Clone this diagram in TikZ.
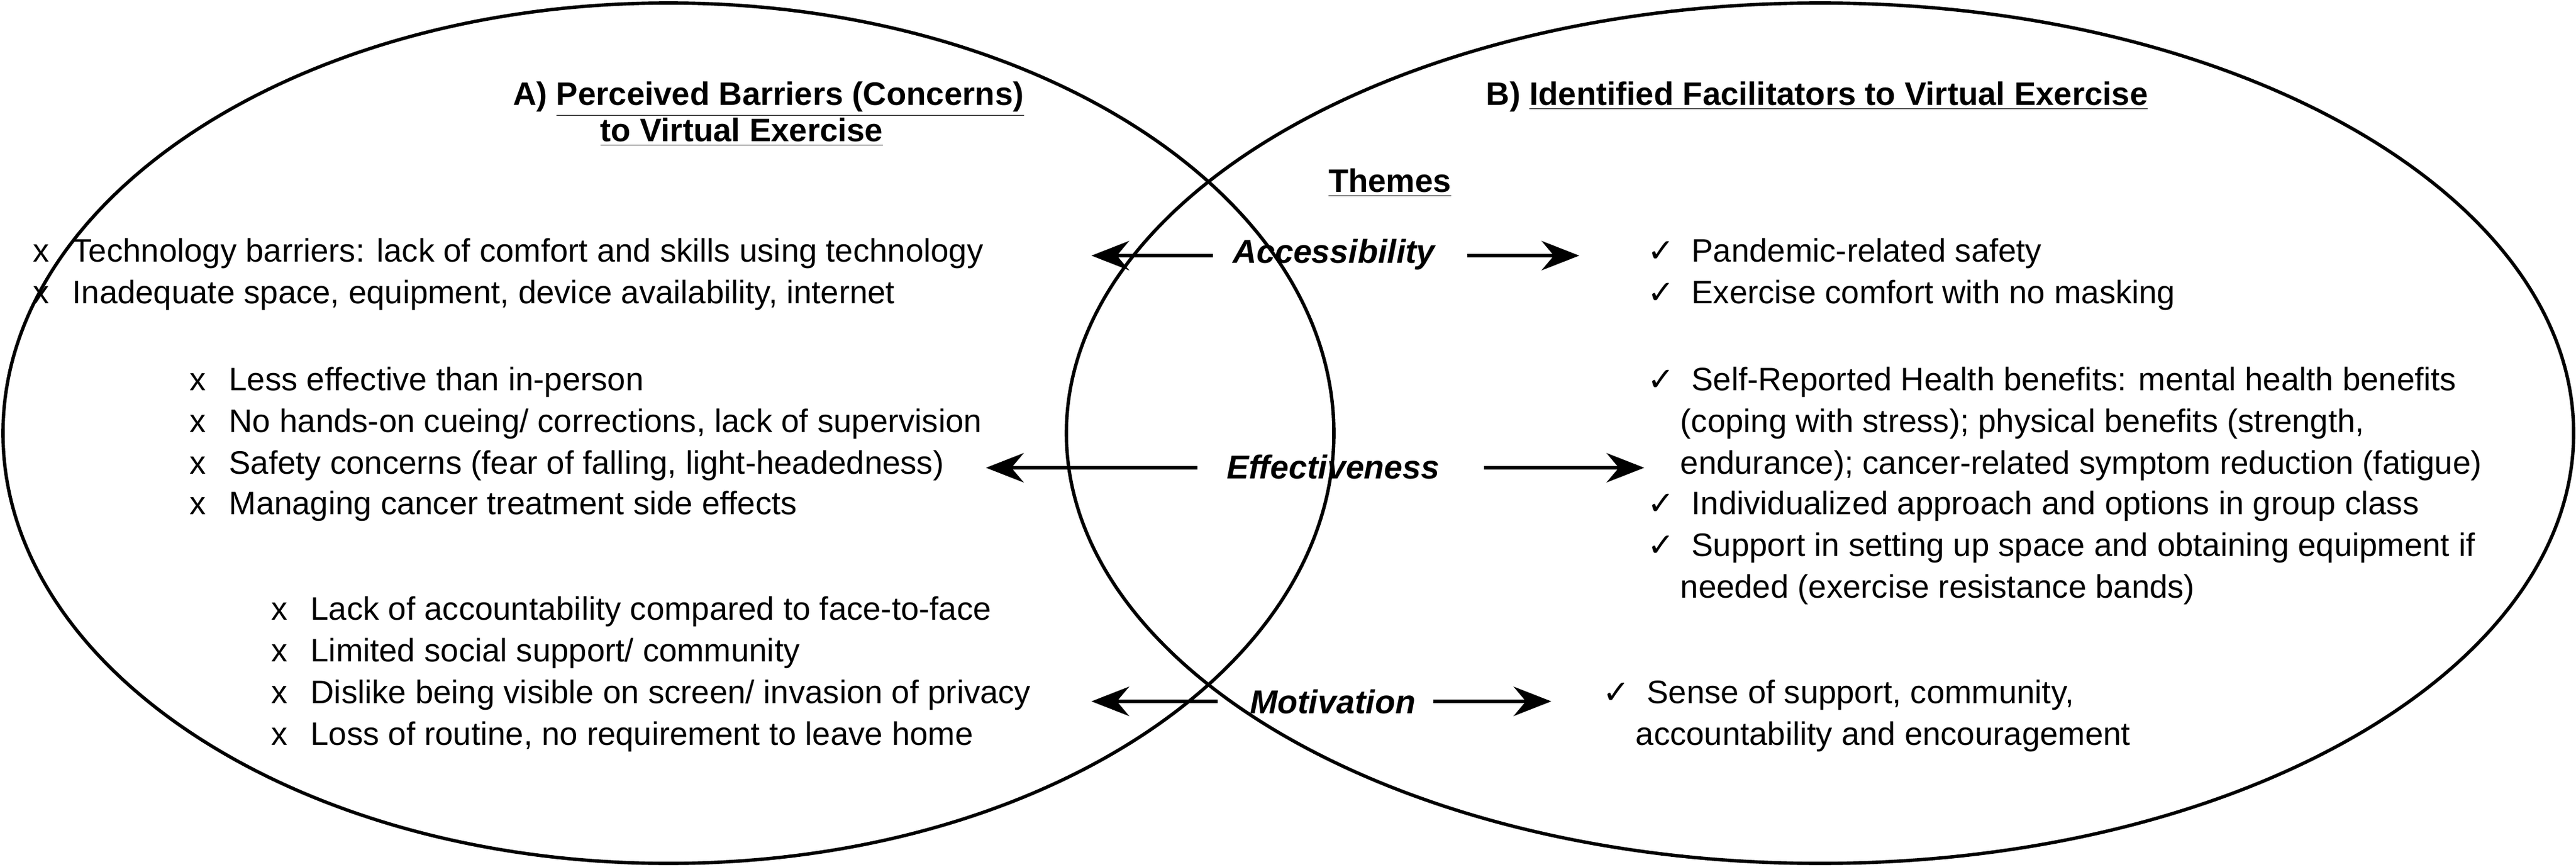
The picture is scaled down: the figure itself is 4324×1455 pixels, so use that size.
\documentclass[tikz,border=0pt]{standalone}
\usepackage{fontspec}
\setmainfont{Liberation Sans}
\newfontfamily\djv{DejaVu Sans}
\usetikzlibrary{arrows.meta}
\begin{document}
\begin{tikzpicture}[x=0.01cm,y=-0.01cm,
  txt/.style={anchor=base west,inner sep=0pt,font=\fontsize{15.5}{18}\selectfont},
  th/.style={anchor=base,inner sep=0pt,font=\fontsize{15.8}{18}\selectfont\bfseries\itshape},
  hd/.style={anchor=base,inner sep=0pt,font=\fontsize{15.5}{18}\selectfont\bfseries},
  arr/.style={-{Stealth[length=18,width=14]},line width=1.6pt},
  ell/.style={line width=1.6pt}]
\useasboundingbox (0,0) rectangle (4324,1455);
\draw[ell] (1122,727) ellipse [x radius=1117, y radius=722];
\draw[ell] (3055,727) ellipse [x radius=1265, y radius=722];
\newcommand{\xx}{x\hspace{11pt}}
\newcommand{\ck}{{\djv\char"2713}\hspace{8pt}}
% titles
\node[hd] (ta) at (1290,177) {A) \underline{Perceived Barriers (Concerns)}};
\node[hd] (ta2) at (1245,238) {\underline{to Virtual Exercise}};
\node[hd] (tb) at (3050,177) {B) \underline{Identified Facilitators to Virtual Exercise}};
\node[hd] (th) at (2333,323) {\underline{Themes}};
% themes
\node[th] (acc) at (2239,442) {Accessibility};
\node[th] (eff) at (2238,803) {Effectiveness};
\node[th] (mot) at (2237,1197) {Motivation};
\coordinate (accL) at (1832,429); \coordinate (accR) at (2651,429);
\coordinate (effL) at (1655,785); \coordinate (effR) at (2760,785);
\coordinate (motL) at (1832,1177); \coordinate (motR) at (2604,1177);
\draw[arr] (2036,429) -- (accL);
\draw[arr] (2463,429) -- (accR);
\draw[arr] (2010,785) -- (effL);
\draw[arr] (2491,785) -- (effR);
\draw[arr] (2044,1177) -- (motL);
\draw[arr] (2406,1177) -- (motR);
% left
\node[txt] (l1) at (55,440) {\xx Technology barriers: lack of comfort and skills using technology};
\node[txt] (l2) at (55,510) {\xx Inadequate space, equipment, device availability, internet};
\node[txt] (l3) at (318,655) {\xx Less effective than in-person};
\node[txt] (l4) at (318,725) {\xx No hands-on cueing/ corrections, lack of supervision};
\node[txt] (l5) at (318,795) {\xx Safety concerns (fear of falling, light-headedness)};
\node[txt] (l6) at (318,863) {\xx Managing cancer treatment side effects};
\node[txt] (l7) at (455,1040) {\xx Lack of accountability compared to face-to-face};
\node[txt] (l8) at (455,1110) {\xx Limited social support/ community};
\node[txt] (l9) at (455,1180) {\xx Dislike being visible on screen/ invasion of privacy};
\node[txt] (l10) at (455,1250) {\xx Loss of routine, no requirement to leave home};
% right
\node[txt] (r1) at (2765,440) {\ck Pandemic-related safety};
\node[txt] (r2) at (2765,510) {\ck Exercise comfort with no masking};
\node[txt] (r3) at (2765,655) {\ck Self-Reported Health benefits: mental health benefits};
\node[txt] (r3b) at (2820,725) {(coping with stress); physical benefits (strength,};
\node[txt] (r3c) at (2820,795) {endurance); cancer-related symptom reduction (fatigue)};
\node[txt] (r4) at (2765,863) {\ck Individualized approach and options in group class};
\node[txt] (r5) at (2765,933) {\ck Support in setting up space and obtaining equipment if};
\node[txt] (r5b) at (2820,1003) {needed (exercise resistance bands)};
\node[txt] (r6) at (2690,1180) {\ck Sense of support, community,};
\node[txt] (r6b) at (2745,1250) {accountability and encouragement};
\end{tikzpicture}
\end{document}
